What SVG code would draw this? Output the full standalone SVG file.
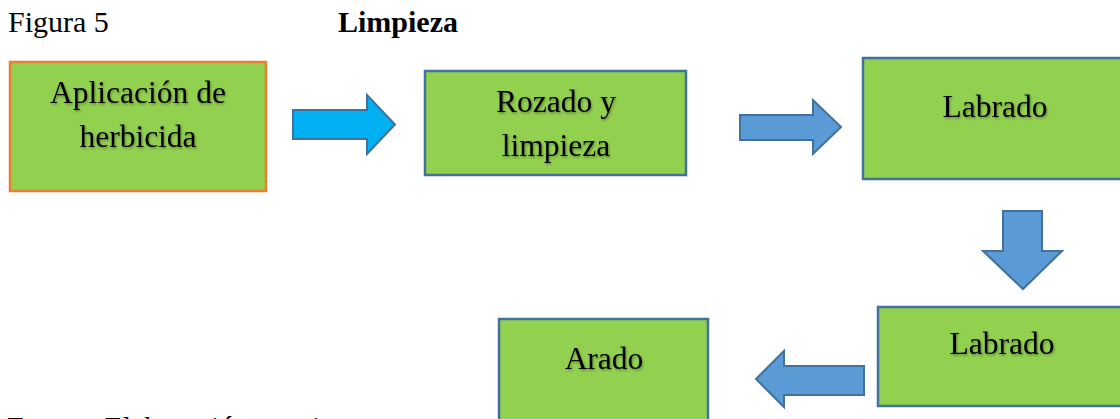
<svg xmlns="http://www.w3.org/2000/svg" width="1120" height="419" viewBox="0 0 1120 419">
<style>
.bg{fill:#ffffff}
.box{fill:#92D050;stroke:#41719C;stroke-width:2.5}
.box.orange{stroke:#ED7D31}
.t{font-family:"Liberation Serif","Times New Roman",serif;font-size:30px;fill:#000}
.lbl{font-family:"Liberation Serif","Times New Roman",serif;font-size:31.5px;fill:#000;text-anchor:middle;filter:url(#sh)}
.arr{fill:#5B9BD5;stroke:#41719C;stroke-width:2;stroke-linejoin:miter}
.arr.cyan{fill:#00B0F0}
</style>
<defs>
<filter id="sh" x="-10%" y="-20%" width="120%" height="150%">
<feDropShadow dx="1" dy="1.5" stdDeviation="1" flood-color="#000" flood-opacity="0.35"/>
</filter>
</defs>
<rect class="bg" x="0" y="0" width="1120" height="419"/>
<text class="t" x="8" y="32">Figura 5</text>
<text class="t" x="338" y="32" font-weight="bold">Limpieza</text>
<text class="t" x="7" y="437">Fuente: Elaboración propia</text>

<g id="n1">
<rect class="box orange" x="10" y="62" width="256" height="129"/>
<text class="lbl" x="138" y="103">Aplicación de</text>
<text class="lbl" x="138" y="147">herbicida</text>
</g>
<g id="n2">
<rect class="box" x="425" y="71" width="261" height="104"/>
<text class="lbl" x="556" y="112">Rozado y</text>
<text class="lbl" x="556" y="156">limpieza</text>
</g>
<g id="n3">
<rect class="box" x="863" y="58" width="265" height="121"/>
<text class="lbl" x="995" y="117">Labrado</text>
</g>
<g id="n4">
<rect class="box" x="878" y="307" width="250" height="99"/>
<text class="lbl" x="1002" y="354">Labrado</text>
</g>
<g id="n5">
<rect class="box" x="499" y="319" width="209" height="120"/>
<text class="lbl" x="604" y="369">Arado</text>
</g>

<g id="connectors">
<polygon class="arr cyan" points="293,110 367,110 367,95 395,124.5 367,154 367,139 293,139"/>
<polygon class="arr" points="740,115 813,115 813,100 841,127 813,154 813,140 740,140"/>
<polygon class="arr" points="1003,211 1042,211 1042,251 1062,251 1023,289 983,251 1003,251"/>
<polygon class="arr" points="864,366 784,366 784,351 756,379 784,407 784,395 864,395"/>
</g>
</svg>
